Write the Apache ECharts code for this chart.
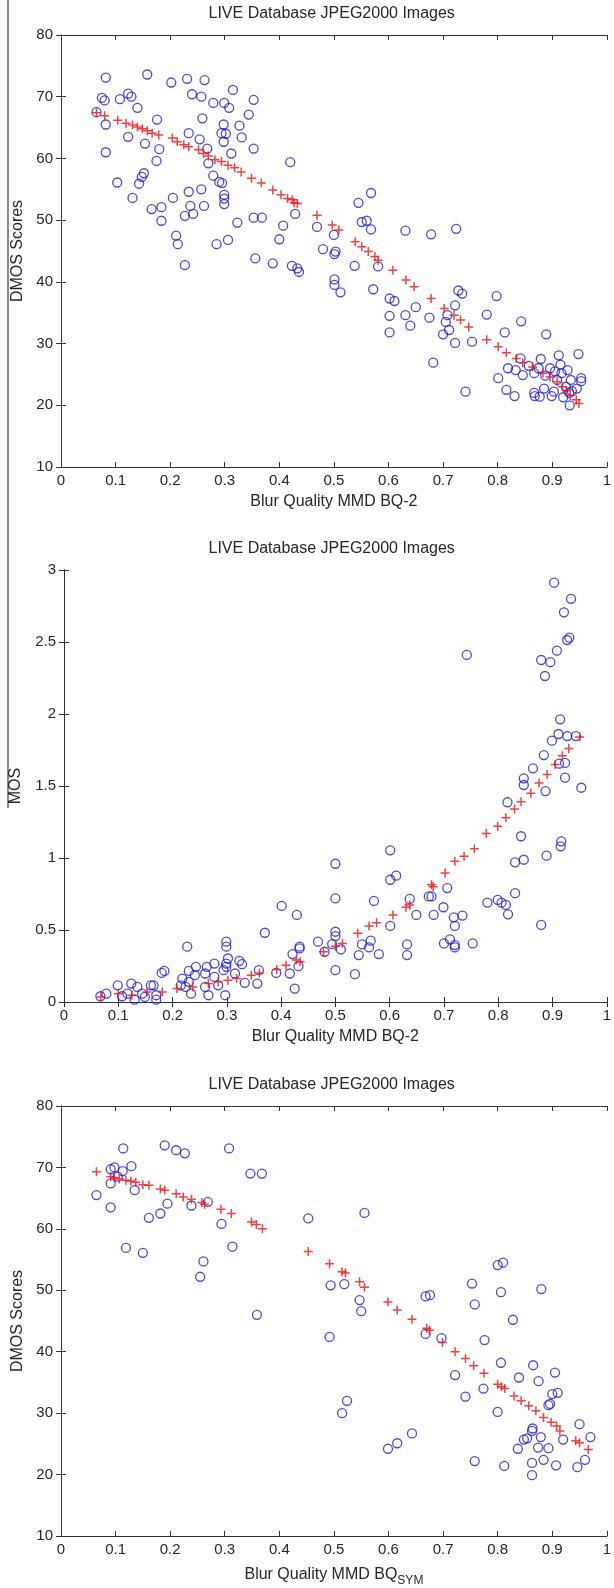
<!DOCTYPE html>
<html>
<head>
<meta charset="utf-8">
<script src="https://cdn.jsdelivr.net/npm/echarts@6/dist/echarts.min.js"></script>
<style>
  html, body { margin: 0; padding: 0; background: #fff; }
  #chart { width: 614px; height: 1588px; }
</style>
</head>
<body>
<div id="chart"></div>
<script>
// x ticks shared by all three panels
const xTicks = [0, 0.1, 0.2, 0.3, 0.4, 0.5, 0.6, 0.7, 0.8, 0.9, 1];
const titleText = 'LIVE Database JPEG2000 Images';

// panel 1: DMOS vs BQ-2
const p1Circles = [
  [0.082,73.1],[0.075,69.8],[0.080,69.4],[0.065,67.5],[0.082,65.5],[0.082,61.0],
  [0.158,73.6],[0.202,72.3],[0.231,72.9],[0.263,72.7],[0.240,70.4],[0.257,70.0],[0.279,69.0],[0.299,69.0],
  [0.308,68.2],[0.315,71.1],[0.353,69.5],[0.344,67.1],[0.327,65.3],[0.298,65.5],[0.294,64.1],[0.302,64.0],
  [0.298,62.7],[0.331,63.4],[0.312,60.8],[0.353,61.6],[0.259,66.5],[0.234,64.1],[0.254,63.1],[0.268,61.6],
  [0.270,59.2],[0.279,57.2],[0.290,56.2],[0.295,56.0],[0.299,54.1],[0.299,53.5],[0.299,52.6],[0.257,55.0],
  [0.262,52.3],[0.234,54.6],[0.237,52.3],[0.242,51.0],[0.227,50.7],[0.205,53.6],[0.211,47.5],[0.214,46.1],
  [0.227,42.7],[0.184,52.1],[0.166,51.8],[0.184,49.9],[0.175,59.6],[0.180,61.5],[0.154,62.4],[0.176,66.3],
  [0.140,68.2],[0.129,70.0],[0.123,70.5],[0.108,69.6],[0.123,63.5],[0.103,56.1],[0.131,53.6],[0.143,55.9],
  [0.148,57.0],[0.152,57.6],[0.323,49.6],[0.285,46.1],[0.306,46.8],[0.356,43.8],[0.353,50.4],[0.368,50.4],
  [0.388,43.0],[0.400,46.9],[0.407,49.1],[0.420,59.4],[0.423,42.6],[0.433,42.2],[0.436,41.6],[0.429,51.0],
  [0.469,48.9],[0.480,45.3],[0.500,47.6],[0.503,44.9],[0.501,44.5],[0.501,40.4],[0.501,39.5],[0.512,38.3],
  [0.538,42.6],[0.545,52.8],[0.568,54.4],[0.551,49.7],[0.560,49.9],[0.568,48.5],[0.581,42.5],[0.572,38.8],
  [0.602,37.3],[0.611,36.9],[0.602,34.5],[0.602,31.8],[0.631,48.3],[0.631,34.6],[0.640,32.9],[0.650,35.9],
  [0.675,34.2],[0.678,47.7],[0.682,26.9],[0.724,48.6],[0.728,38.6],[0.735,38.1],[0.722,36.2],[0.708,34.6],
  [0.705,33.5],[0.700,31.5],[0.711,32.2],[0.722,30.1],[0.753,30.3],[0.741,22.2],[0.780,34.7],[0.798,37.7],
  [0.813,31.8],[0.843,33.6],[0.842,27.6],[0.819,26.0],[0.833,25.7],[0.801,24.4],[0.816,22.5],[0.831,21.5],
  [0.846,24.9],[0.889,31.5],[0.879,27.5],[0.912,28.1],[0.948,28.3],[0.953,24.4],[0.896,26.0],[0.857,26.4],
  [0.867,25.2],[0.928,25.7],[0.917,25.2],[0.909,24.1],[0.934,24.1],[0.945,22.7],[0.931,22.0],[0.903,22.2],
  [0.867,22.0],[0.885,22.7],[0.868,21.5],[0.877,21.4],[0.899,21.5],[0.932,20.0],[0.920,21.3],[0.936,22.3],
  [0.953,23.9],[0.905,25.5],[0.925,23.0],[0.887,24.8],[0.915,26.6],[0.875,26.0]
];
const p1Fit = [
  [0.065,67.4],[0.080,66.9],[0.104,66.2],[0.119,65.7],[0.131,65.4],[0.140,65.1],[0.149,64.8],[0.158,64.5],
  [0.167,64.1],[0.179,63.8],[0.204,63.3],[0.213,62.7],[0.225,62.2],[0.234,61.9],[0.252,61.4],[0.261,60.8],
  [0.270,60.4],[0.282,59.8],[0.294,59.5],[0.306,58.9],[0.318,58.5],[0.330,57.8],[0.349,56.8],[0.367,56.0],
  [0.388,54.9],[0.403,54.1],[0.415,53.5],[0.427,52.8],[0.424,53.3],[0.433,52.7],[0.469,50.8],[0.497,49.2],
  [0.509,48.4],[0.539,46.5],[0.551,45.7],[0.563,44.9],[0.575,44.1],[0.581,43.5],[0.608,41.9],[0.632,40.3],
  [0.647,39.2],[0.678,37.3],[0.702,35.7],[0.720,34.6],[0.732,33.8],[0.747,32.7],[0.780,30.6],[0.801,29.5],
  [0.816,28.5],[0.834,27.6],[0.846,26.9],[0.864,26.2],[0.883,25.2],[0.896,24.6],[0.909,23.8],[0.919,23.0],
  [0.926,22.4],[0.933,21.6],[0.944,20.9],[0.949,20.3]
];

// panel 2: MOS vs BQ-2
const p2Circles = [
  [0.903,2.912],[0.934,2.80],[0.921,2.706],[0.927,2.514],[0.931,2.53],[0.908,2.44],[0.879,2.375],[0.896,2.36],
  [0.886,2.264],[0.742,2.41],[0.914,1.963],[0.911,1.861],[0.927,1.847],[0.899,1.815],[0.943,1.847],[0.884,1.715],
  [0.864,1.623],[0.847,1.553],[0.847,1.507],[0.887,1.465],[0.923,1.558],[0.923,1.66],[0.912,1.655],[0.953,1.488],
  [0.817,1.387],[0.842,1.151],[0.916,1.116],[0.915,1.081],[0.889,1.016],[0.847,0.988],[0.831,0.97],[0.601,1.053],
  [0.500,0.96],[0.612,0.877],[0.601,0.849],[0.500,0.719],[0.571,0.702],[0.637,0.716],[0.672,0.733],[0.677,0.733],
  [0.706,0.791],[0.699,0.658],[0.649,0.605],[0.681,0.605],[0.718,0.588],[0.734,0.60],[0.720,0.528],[0.780,0.69],
  [0.799,0.709],[0.806,0.69],[0.814,0.674],[0.818,0.609],[0.831,0.756],[0.879,0.535],[0.601,0.528],[0.401,0.667],
  [0.429,0.605],[0.370,0.481],[0.500,0.488],[0.500,0.458],[0.494,0.402],[0.468,0.419],[0.480,0.349],[0.510,0.365],
  [0.500,0.221],[0.536,0.193],[0.543,0.326],[0.549,0.40],[0.565,0.426],[0.562,0.379],[0.580,0.333],[0.632,0.40],
  [0.632,0.326],[0.700,0.407],[0.711,0.435],[0.720,0.395],[0.720,0.379],[0.753,0.407],[0.434,0.384],[0.434,0.372],
  [0.421,0.333],[0.432,0.249],[0.425,0.093],[0.416,0.198],[0.391,0.202],[0.359,0.221],[0.356,0.128],[0.333,0.133],
  [0.328,0.263],[0.315,0.198],[0.299,0.419],[0.299,0.384],[0.299,0.267],[0.299,0.244],[0.294,0.221],[0.297,0.047],
  [0.284,0.116],[0.277,0.174],[0.263,0.244],[0.260,0.198],[0.266,0.047],[0.243,0.244],[0.241,0.186],[0.230,0.216],
  [0.227,0.384],[0.230,0.140],[0.234,0.058],[0.218,0.163],[0.215,0.116],[0.185,0.216],[0.180,0.202],[0.165,0.116],
  [0.160,0.116],[0.144,0.058],[0.135,0.105],[0.124,0.128],[0.099,0.116],[0.078,0.058],[0.067,0.040],[0.107,0.040],
  [0.130,0.016],[0.170,0.016],[0.170,0.047],[0.149,0.035],[0.117,0.058],[0.302,0.302],[0.323,0.286],[0.277,0.267],
  [0.224,0.105],[0.260,0.105]
];
const p2Fit = [
  [0.068,0.035],[0.100,0.058],[0.125,0.047],[0.153,0.070],[0.181,0.070],[0.208,0.093],[0.237,0.105],[0.266,0.128],
  [0.284,0.140],[0.302,0.151],[0.318,0.163],[0.345,0.186],[0.360,0.202],[0.392,0.226],[0.409,0.256],[0.428,0.291],
  [0.435,0.280],[0.478,0.349],[0.500,0.388],[0.513,0.407],[0.541,0.477],[0.562,0.528],[0.576,0.551],[0.606,0.605],
  [0.630,0.658],[0.637,0.674],[0.677,0.814],[0.680,0.800],[0.702,0.895],[0.720,0.977],[0.737,1.012],[0.756,1.065],
  [0.778,1.170],[0.799,1.221],[0.814,1.279],[0.830,1.340],[0.842,1.390],[0.860,1.450],[0.875,1.520],[0.890,1.580],
  [0.905,1.650],[0.918,1.710],[0.930,1.760],[0.950,1.840]
];

// panel 3: DMOS vs BQ_SYM
const p3Circles = [
  [0.065,65.5],[0.091,63.5],[0.091,67.4],[0.091,69.7],[0.098,70.0],[0.114,73.1],[0.113,69.4],[0.104,68.5],
  [0.129,70.2],[0.135,66.3],[0.119,56.9],[0.150,56.1],[0.161,61.8],[0.182,62.5],[0.195,64.1],[0.190,73.6],
  [0.211,72.8],[0.227,72.3],[0.239,63.8],[0.269,64.4],[0.255,52.2],[0.261,54.7],[0.294,60.8],[0.308,73.1],
  [0.314,57.1],[0.347,69.0],[0.368,69.0],[0.359,46.0],[0.453,61.7],[0.556,62.6],[0.494,50.8],[0.519,51.0],
  [0.547,48.4],[0.550,46.6],[0.492,42.4],[0.524,32.0],[0.515,30.0],[0.599,24.2],[0.616,25.1],[0.643,26.7],
  [0.668,49.0],[0.676,49.2],[0.668,42.9],[0.697,42.2],[0.722,36.2],[0.741,32.7],[0.753,51.1],[0.758,47.7],
  [0.774,34.0],[0.776,41.9],[0.758,22.2],[0.800,54.1],[0.810,54.5],[0.806,49.7],[0.806,38.2],[0.800,30.2],
  [0.828,45.2],[0.839,35.8],[0.812,21.4],[0.837,24.2],[0.848,25.7],[0.950,28.2],[0.970,26.1],[0.920,25.7],
  [0.854,25.9],[0.864,27.5],[0.863,27.1],[0.879,26.1],[0.874,24.4],[0.893,24.3],[0.896,31.5],[0.893,31.3],
  [0.960,22.4],[0.946,21.2],[0.907,21.5],[0.884,22.4],[0.863,21.9],[0.863,19.9],[0.880,50.2],[0.865,37.8],
  [0.875,35.2],[0.905,36.6],[0.910,33.3],[0.900,33.1]
];
const p3Fit = [
  [0.065,69.3],[0.091,68.5],[0.098,68.3],[0.107,68.1],[0.119,67.9],[0.128,67.8],[0.137,67.6],[0.150,67.2],
  [0.161,67.1],[0.182,66.5],[0.190,66.3],[0.211,65.7],[0.224,65.2],[0.239,64.8],[0.258,64.3],[0.263,64.0],
  [0.293,63.2],[0.312,62.5],[0.349,61.1],[0.358,60.7],[0.369,60.0],[0.453,56.3],[0.492,54.3],[0.515,53.0],
  [0.521,52.8],[0.547,51.4],[0.556,50.5],[0.599,48.1],[0.616,46.8],[0.643,45.3],[0.670,43.8],[0.675,43.5],
  [0.699,41.5],[0.722,40.0],[0.741,38.9],[0.756,37.7],[0.775,36.5],[0.800,34.7],[0.807,34.3],[0.813,34.0],
  [0.830,32.8],[0.843,32.0],[0.857,31.2],[0.870,30.4],[0.884,29.3],[0.898,28.5],[0.908,27.9],[0.914,27.1],
  [0.943,25.5],[0.950,25.2],[0.966,24.1]
];

const font = 'Liberation Sans, Arial, sans-serif';
const ink = '#262626';
const fmt = v => String(Math.round(v * 10) / 10);

const grids = [
  { left: 61, top: 35, width: 551, height: 432 },
  { left: 61, top: 570, width: 551, height: 432 },
  { left: 61, top: 1106, width: 551, height: 431 }
];
const yRanges = [
  { min: 10, max: 80, interval: 10, name: 'DMOS Scores', gap: 33 },
  { min: 0, max: 3, interval: 0.5, name: 'MOS', gap: 40 },
  { min: 10, max: 80, interval: 10, name: 'DMOS Scores', gap: 34 }
];
const xNames = ['Blur Quality MMD BQ-2', 'Blur Quality MMD BQ-2', 'Blur Quality MMD BQ{sub|SYM}'];

const axisLine = { show: true, lineStyle: { color: '#333', width: 1 } };
const tick = { show: true, inside: true, length: 5, lineStyle: { color: '#333' } };

const xAxis = [], yAxis = [];
grids.forEach((g, i) => {
  xAxis.push({
    type: 'value', gridIndex: i, position: 'bottom',
    min: xTicks[0], max: xTicks[xTicks.length - 1], interval: 0.1,
    axisLine, axisTick: tick, splitLine: { show: false },
    axisLabel: { margin: 6, color: ink, fontFamily: font, fontSize: 15, formatter: fmt },
    name: xNames[i], nameLocation: 'middle', nameGap: 27,
    nameTextStyle: {
      color: ink, fontFamily: font, fontSize: 16,
      rich: { sub: { fontFamily: font, fontSize: 12, color: ink, padding: [12, 0, 0, 0] } }
    }
  });
  xAxis.push({
    type: 'value', gridIndex: i, position: 'top',
    min: 0, max: 1, interval: 0.1,
    axisLine, axisTick: tick, axisLabel: { show: false }, splitLine: { show: false }
  });
  const r = yRanges[i];
  yAxis.push({
    type: 'value', gridIndex: i, position: 'left',
    min: r.min, max: r.max, interval: r.interval,
    axisLine, axisTick: tick, splitLine: { show: false },
    axisLabel: { margin: 8, color: ink, fontFamily: font, fontSize: 15, formatter: fmt },
    name: r.name, nameLocation: 'middle', nameGap: r.gap,
    nameTextStyle: { color: ink, fontFamily: font, fontSize: 16 }
  });
  yAxis.push({
    type: 'value', gridIndex: i, position: 'right',
    min: r.min, max: r.max, interval: r.interval,
    axisLine, axisTick: tick, axisLabel: { show: false }, splitLine: { show: false }
  });
});

const circleStyle = { color: 'rgba(0,0,0,0)', borderColor: '#1c1cd8', borderWidth: 1.3 };
const plusStyle = { color: 'rgba(0,0,0,0)', borderColor: '#f01010', borderWidth: 1.5 };
const plusPath = 'path://M0,5H10M5,0V10';

const circleSets = [p1Circles, p2Circles, p3Circles];
const fitSets = [p1Fit, p2Fit, p3Fit];
const series = [];
circleSets.forEach((d, i) => {
  series.push({
    type: 'scatter', xAxisIndex: i * 2, yAxisIndex: i * 2, data: d,
    symbol: 'circle', symbolSize: 9, itemStyle: circleStyle, silent: true
  });
  series.push({
    type: 'scatter', xAxisIndex: i * 2, yAxisIndex: i * 2, data: fitSets[i],
    symbol: plusPath, symbolSize: 9, itemStyle: plusStyle, silent: true, z: 3
  });
});

const titles = grids.map(g => ({
  type: 'text', left: g.left + g.width / 2 - 128, top: g.top - 29,
  style: { text: titleText, fill: ink, font: '16px ' + font }
}));

const chart = echarts.init(document.getElementById('chart'), null, { renderer: 'canvas' });
chart.setOption({
  animation: false,
  backgroundColor: '#fff',
  grid: grids,
  xAxis, yAxis, series,
  graphic: titles.concat([
    { type: 'line', shape: { x1: 8, y1: 0, x2: 8, y2: 808 }, style: { stroke: '#8a8a8a', lineWidth: 2 } }
  ])
});
</script>
</body>
</html>
